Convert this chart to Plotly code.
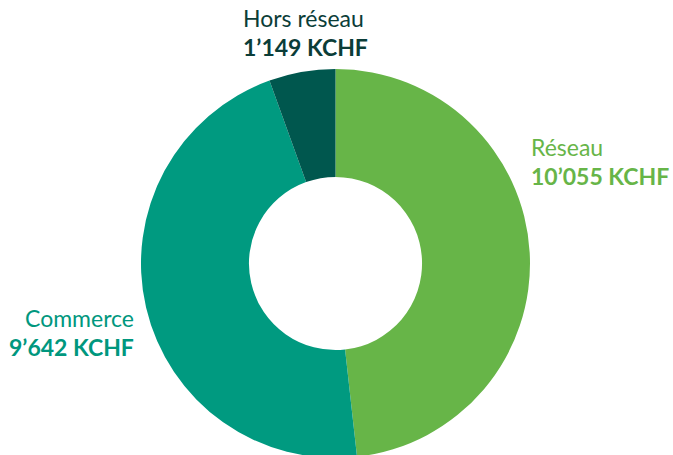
import plotly.graph_objects as go

categories = ["Réseau", "Commerce", "Hors réseau"]
values = [10055, 9642, 1149]
value_labels = ["10’055 KCHF", "9’642 KCHF", "1’149 KCHF"]
colors = ["#67B548", "#009A80", "#00574E"]
text_colors = ["#67B548", "#00977E", "#0B3D38"]

W, H = 673, 462  # a few px taller than the window: the donut runs past the bottom edge
cx, cy, r = 335.5, 263.5, 194.5

fig = go.Figure(go.Pie(
    labels=categories,
    values=values,
    hole=0.445,
    sort=False,
    direction="clockwise",
    rotation=0,
    marker=dict(colors=colors, line=dict(width=0)),
    textinfo="none",
    hoverinfo="label+value",
    showlegend=False,
    domain=dict(x=[(cx - r) / W, (cx + r) / W], y=[max(0, (H - cy - r) / H), (H - cy + r) / H]),
))

FONT = "Lato"
SIZE_NAME = 23
SIZE_VALUE = 23

def px(x):
    return x / W

def py(y):
    return 1 - y / H

# page-pixel positions: x, anchor, y of line 1, y of line 2
label_pos = {
    "Hors réseau": (241, "left", 18.5, 46.8),
    "Réseau": (529, "left", 146.8, 175.8),
    "Commerce": (136, "right", 317.5, 347.2),
}

annotations = []
for cat, val, tc in zip(categories, value_labels, text_colors):
    x, anchor, y1, y2 = label_pos[cat]
    annotations.append(dict(
        x=px(x), y=py(y1), xref="paper", yref="paper", xanchor=anchor, yanchor="middle",
        text=cat, showarrow=False, font=dict(family=FONT, size=SIZE_NAME, color=tc),
    ))
    annotations.append(dict(
        x=px(x), y=py(y2), xref="paper", yref="paper", xanchor=anchor, yanchor="middle",
        text="<b>" + val + "</b>", showarrow=False, font=dict(family=FONT, size=SIZE_VALUE, color=tc),
    ))

fig.update_layout(
    width=W, height=H,
    margin=dict(l=0, r=0, t=0, b=0),
    paper_bgcolor="white", plot_bgcolor="white",
    annotations=annotations,
)

fig.write_html(
    "out.html",
    config={"displayModeBar": False},
    post_script="document.body.style.margin='0';document.body.style.overflow='hidden';",
)
